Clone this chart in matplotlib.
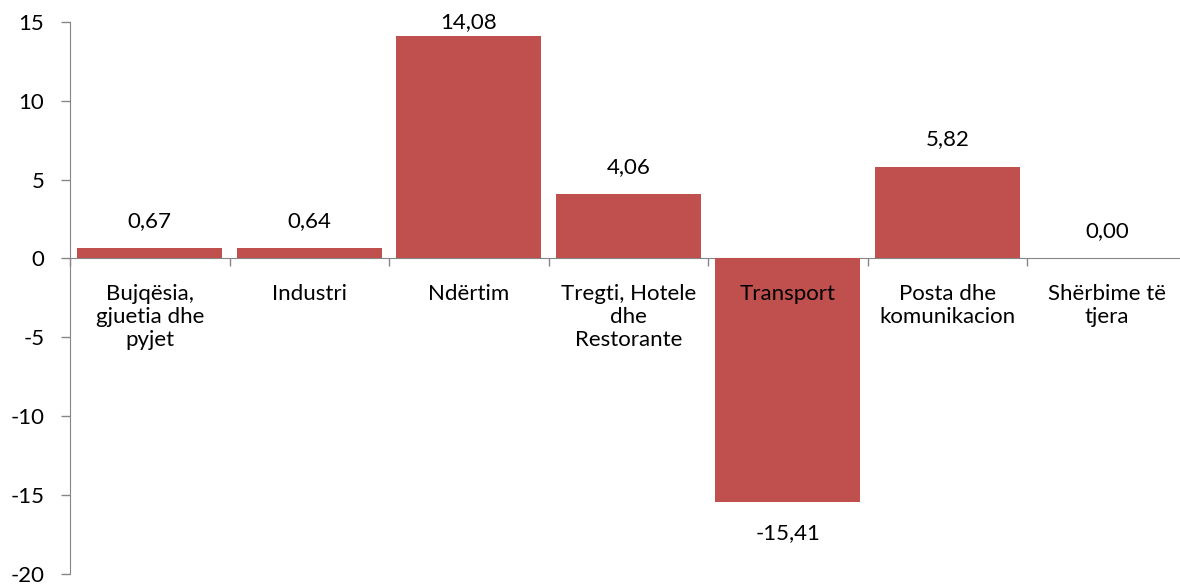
import matplotlib
matplotlib.use("Agg")
import matplotlib.pyplot as plt
import numpy as np

# sector growth values
categories = ["Bujqësia,\ngjuetia dhe\npyjet", "Industri", "Ndërtim",
              "Tregti, Hotele\ndhe\nRestorante", "Transport",
              "Posta dhe\nkomunikacion", "Shërbime të\ntjera"]
values = [0.67, 0.64, 14.08, 4.06, -15.41, 5.82, 0.00]
value_labels = ["0,67", "0,64", "14,08", "4,06", "-15,41", "5,82", "0,00"]
yticks = [-20, -15, -10, -5, 0, 5, 10, 15]

plt.rcParams['font.family'] = ['Lato', 'DejaVu Sans']

bar_color = "#C0504D"
axis_color = "#868686"
fs = 16

fig = plt.figure(figsize=(11.8, 5.86), dpi=100)
# axes box in pixels: left 70, top 21.7, bottom 574, category width ~159.5
ax = fig.add_axes([70 / 1180, (586 - 574) / 586, 7 * 159.5 / 1180, (574 - 21.7) / 586])

x = np.arange(len(categories))
ax.bar(x, values, width=0.91, color=bar_color, zorder=3)

ax.set_xlim(-0.5, len(categories) - 0.5)
ax.set_ylim(-20, 15)

# spine position first, it resets the ticks
for s in ["top", "right"]:
    ax.spines[s].set_visible(False)
ax.spines["bottom"].set_position(("data", 0))
ax.spines["bottom"].set_color(axis_color)
ax.spines["left"].set_color(axis_color)
ax.spines["bottom"].set_zorder(2)
ax.xaxis.set_zorder(4)

ax.set_yticks(yticks)
ax.set_yticklabels([str(t) for t in yticks], fontsize=fs)
ax.set_xticks(x)
ax.set_xticklabels(categories, fontsize=fs, linespacing=1.18)
ax.set_xticks(np.arange(-0.5, len(categories), 1.0), minor=True)
ax.tick_params(axis="x", which="major", length=0, pad=18.5)
ax.tick_params(axis="x", which="minor", length=6, width=1, color=axis_color, direction="out")
ax.tick_params(axis="y", length=6.5, width=1, color=axis_color, direction="out", pad=12)

# value labels, kept inside the chart area like excel does
fig_h = 586
for xi, v, lab in zip(x, values, value_labels):
    px, py = ax.transData.transform((xi, v))
    if v >= 0:
        ty = min(py + 27, fig_h - 22.5)
    else:
        ty = py - 32
    ax.annotate(lab, (xi, v), xytext=(px, ty), textcoords="figure pixels",
                ha="center", va="center", fontsize=fs)

fig.savefig("out.png", dpi=100)
